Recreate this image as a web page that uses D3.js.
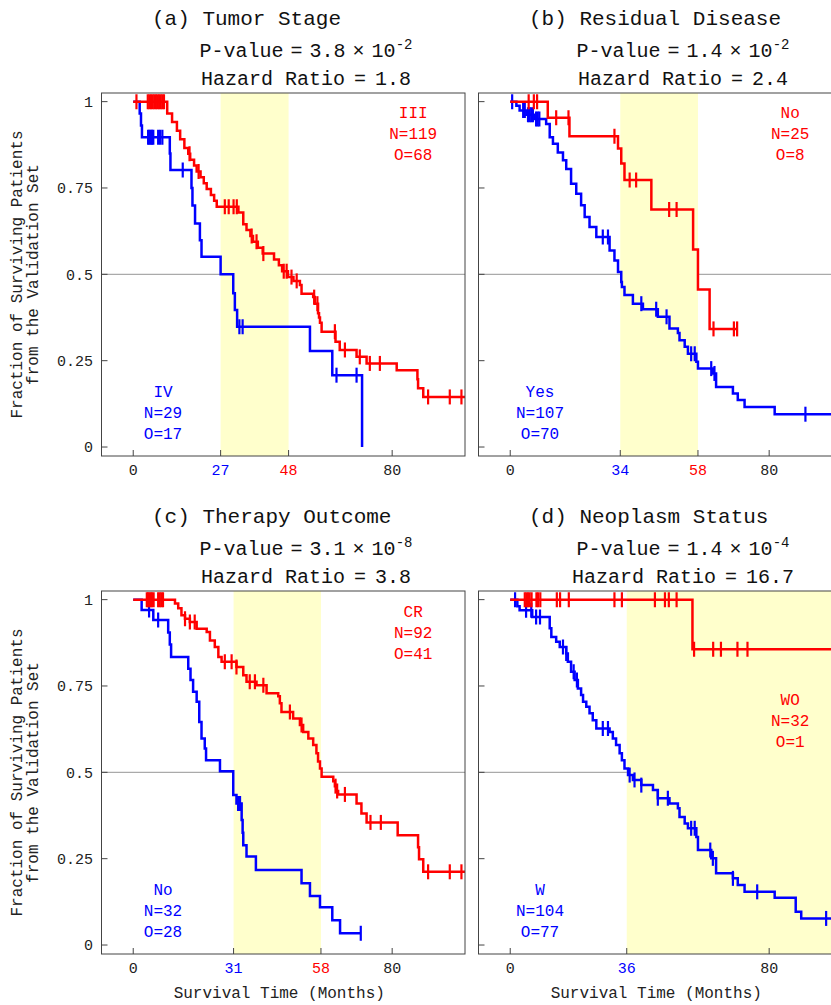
<!DOCTYPE html>
<html>
<head>
<meta charset="utf-8">
<script src="https://cdn.jsdelivr.net/npm/d3@7"></script>
<style>
  body { margin: 0; background: #fff; }
  svg { display: block; }
  text { font-family: "Liberation Mono", "DejaVu Sans Mono", monospace; }
</style>
</head>
<body>
<svg id="chart" width="831" height="1005"></svg>
<script>
// ---- Panel annotations ----
const panelTitles = ["(a) Tumor Stage", "(b) Residual Disease", "(c) Therapy Outcome", "(d) Neoplasm Status"];
const pValueMantissa = ["3.8", "1.4", "3.1", "1.4"];
const pValueExponent = ["-2", "-2", "-8", "-4"];
const hazardRatios = ["1.8", "2.4", "3.8", "16.7"];
const redGroupNames = ["III", "No", "CR", "WO"];
const blueGroupNames = ["IV", "Yes", "No", "W"];
const redN = [119, 25, 92, 32];
const redO = [68, 8, 41, 1];
const blueN = [29, 107, 32, 104];
const blueO = [17, 70, 28, 77];
const blueMedians = [27, 34, 31, 36];
const redMedians = [48, 58, 58, null];
const xTickBase = [0, 80];
const yTickValues = [0, 0.25, 0.5, 0.75, 1];
const yTickLabels = ["0", "0.25", "0.5", "0.75", "1"];

// ---- (a) Tumor Stage ----
const aRedTimes = [10.5, 12.0, 13.5, 14.5, 15.8, 17.0, 17.6, 18.8, 19.6, 20.8, 21.8, 22.7, 24.0, 25.0, 25.8, 32.5, 34.0, 35.0, 36.2, 37.0, 38.5, 40.0, 43.5, 45.0, 46.0, 47.8, 49.5, 51.5, 52.0, 55.6, 56.1, 57.1, 57.4, 57.7, 58.2, 62.5, 63.8, 69.0, 72.1, 81.4, 87.8, 88.0, 89.6];
const aRedSurv = [0.966, 0.941, 0.916, 0.891, 0.866, 0.849, 0.832, 0.815, 0.798, 0.781, 0.764, 0.747, 0.730, 0.713, 0.696, 0.679, 0.645, 0.628, 0.611, 0.594, 0.577, 0.560, 0.543, 0.526, 0.509, 0.492, 0.481, 0.469, 0.444, 0.434, 0.415, 0.387, 0.375, 0.360, 0.334, 0.305, 0.281, 0.261, 0.242, 0.222, 0.196, 0.170, 0.145];
const aRedCensor = [1.0, 4.5, 5.0, 5.5, 6.0, 6.5, 7.0, 7.5, 8.0, 8.5, 9.0, 9.5, 17.4, 20.2, 28.3, 29.5, 31.0, 32.0, 36.6, 38.1, 40.2, 46.5, 47.4, 48.9, 50.5, 55.9, 56.9, 62.3, 65.4, 70.0, 73.1, 76.2, 91.1, 97.8, 101.4];
const aRedEnd = 105;
const aBlueTimes = [2.0, 2.4, 2.7, 11.3, 11.5, 18.0, 18.3, 19.1, 20.6, 21.1, 27.0, 30.9, 31.4, 32.1, 54.6, 61.5, 70.7];
const aBlueSurv = [0.966, 0.931, 0.897, 0.850, 0.802, 0.750, 0.699, 0.647, 0.599, 0.551, 0.500, 0.445, 0.397, 0.348, 0.278, 0.208, 0];
const aBlueCensor = [4.6, 5.0, 5.4, 5.8, 6.2, 7.7, 8.3, 9.0, 15.3, 32.8, 33.8, 62.8, 69.0];
const aBlueEnd = 70.7;

// ---- (b) Residual Disease ----
const bRedTimes = [11.6, 18.3, 33.3, 34.3, 35.3, 43.6, 56.5, 58.0, 61.6];
const bRedSurv = [0.953, 0.900, 0.864, 0.821, 0.773, 0.688, 0.572, 0.456, 0.342];
const bRedCensor = [5.7, 7.3, 8.3, 14.2, 18.0, 32.2, 36.9, 38.9, 49.1, 51.4, 62.8, 69.1, 70.1];
const bRedEnd = 70.1;
const bBlueTimes = [1.9, 2.9, 5.0, 7.5, 11.1, 12.2, 13.2, 14.7, 16.3, 17.3, 18.8, 20.4, 21.9, 23.0, 24.5, 26.6, 30.7, 32.2, 33.3, 34.3, 34.5, 35.3, 37.9, 41.0, 45.6, 49.2, 51.8, 52.3, 53.9, 54.9, 57.5, 58.0, 62.6, 63.6, 68.8, 70.3, 72.4, 81.7];
const bBlueSurv = [0.988, 0.974, 0.962, 0.950, 0.935, 0.897, 0.878, 0.853, 0.830, 0.805, 0.762, 0.733, 0.700, 0.666, 0.637, 0.608, 0.569, 0.540, 0.507, 0.478, 0.463, 0.440, 0.415, 0.399, 0.377, 0.343, 0.330, 0.309, 0.290, 0.270, 0.247, 0.227, 0.213, 0.174, 0.155, 0.136, 0.116, 0.095];
const bBlueCensor = [0.6, 4.0, 4.5, 5.5, 6.0, 6.5, 7.0, 8.0, 8.5, 9.0, 28.6, 30.2, 40.5, 45.1, 48.3, 55.9, 57.0, 62.1, 63.1, 91.2];
const bBlueEnd = 105;

// ---- (c) Therapy Outcome ----
const cRedTimes = [12.9, 13.9, 14.9, 16.0, 17.5, 19.6, 22.7, 23.7, 25.2, 26.3, 27.3, 31.9, 34.0, 35.0, 38.1, 41.2, 44.8, 45.3, 45.8, 49.4, 51.5, 52.5, 54.1, 55.6, 56.6, 57.1, 57.7, 58.2, 61.8, 62.3, 62.8, 63.3, 69.0, 70.5, 72.1, 81.7, 88.0, 88.3, 89.6];
const cRedSurv = [0.989, 0.975, 0.955, 0.945, 0.935, 0.916, 0.906, 0.882, 0.863, 0.834, 0.820, 0.805, 0.781, 0.762, 0.752, 0.729, 0.720, 0.700, 0.675, 0.656, 0.637, 0.617, 0.598, 0.579, 0.555, 0.531, 0.511, 0.487, 0.474, 0.460, 0.446, 0.436, 0.410, 0.381, 0.355, 0.318, 0.283, 0.248, 0.212];
const cRedCensor = [4.2, 4.6, 5.0, 5.4, 5.8, 6.3, 7.7, 8.2, 8.7, 9.2, 16.0, 17.5, 19.0, 28.3, 30.4, 31.9, 36.0, 37.6, 40.2, 48.4, 52.0, 62.5, 63.0, 65.4, 73.3, 76.5, 91.1, 97.8, 101.4];
const cRedEnd = 105;
const cBlueTimes = [2.6, 6.2, 10.8, 11.3, 11.7, 17.0, 17.7, 18.5, 19.6, 20.4, 21.1, 22.1, 22.5, 26.8, 30.9, 31.9, 33.5, 33.8, 34.0, 35.0, 37.9, 52.0, 54.6, 57.7, 61.5, 63.9];
const cBlueSurv = [0.970, 0.941, 0.905, 0.870, 0.834, 0.800, 0.767, 0.733, 0.704, 0.646, 0.598, 0.569, 0.535, 0.503, 0.434, 0.410, 0.362, 0.325, 0.289, 0.256, 0.217, 0.179, 0.142, 0.109, 0.072, 0.034];
const cBlueCensor = [4.9, 7.7, 32.4, 33.0, 70.3];
const cBlueEnd = 70.3;

// ---- (d) Neoplasm Status ----
const dRedTimes = [56.3];
const dRedSurv = [0.856];
const dRedCensor = [4.5, 5.0, 5.5, 6.0, 6.6, 8.1, 8.6, 9.3, 14.4, 15.4, 18.1, 32.2, 34.5, 44.7, 47.8, 49.0, 51.4, 56.8, 62.7, 65.1, 70.2, 73.3];
const dRedEnd = 105;
const dBlueTimes = [2.2, 2.9, 6.8, 12.2, 12.7, 14.2, 15.3, 17.3, 17.8, 18.8, 19.9, 20.9, 21.9, 22.5, 23.5, 24.5, 25.5, 26.6, 30.7, 31.7, 32.7, 33.8, 34.5, 35.3, 36.4, 37.9, 40.5, 44.1, 45.6, 49.2, 51.8, 52.3, 53.9, 54.9, 57.5, 58.0, 62.1, 63.6, 68.8, 70.3, 72.4, 81.7, 88.2, 89.9];
const dBlueSurv = [0.981, 0.969, 0.950, 0.917, 0.892, 0.878, 0.863, 0.844, 0.820, 0.791, 0.767, 0.743, 0.724, 0.704, 0.690, 0.671, 0.651, 0.627, 0.617, 0.598, 0.579, 0.555, 0.535, 0.511, 0.492, 0.478, 0.463, 0.449, 0.425, 0.410, 0.396, 0.371, 0.352, 0.338, 0.313, 0.275, 0.251, 0.208, 0.193, 0.174, 0.154, 0.137, 0.096, 0.077];
const dBlueCensor = [1.5, 4.9, 6.5, 8.0, 9.2, 16.3, 17.3, 19.6, 20.6, 28.6, 30.2, 36.9, 38.4, 40.5, 45.6, 48.7, 55.9, 57.0, 61.8, 62.6, 68.8, 76.3, 97.6];
const dBlueEnd = 105;

const redCurves = [
  { times: aRedTimes, surv: aRedSurv, censor: aRedCensor, end: aRedEnd },
  { times: bRedTimes, surv: bRedSurv, censor: bRedCensor, end: bRedEnd },
  { times: cRedTimes, surv: cRedSurv, censor: cRedCensor, end: cRedEnd },
  { times: dRedTimes, surv: dRedSurv, censor: dRedCensor, end: dRedEnd }
];
const blueCurves = [
  { times: aBlueTimes, surv: aBlueSurv, censor: aBlueCensor, end: aBlueEnd },
  { times: bBlueTimes, surv: bBlueSurv, censor: bBlueCensor, end: bBlueEnd },
  { times: cBlueTimes, surv: cBlueSurv, censor: cBlueCensor, end: cBlueEnd },
  { times: dBlueTimes, surv: dBlueSurv, censor: dBlueCensor, end: dBlueEnd }
];

// ---- Layout ----
const RED = "#ff0000", BLUE = "#0000ff", BAND = "#ffffcc";
const W = 363.5, H = 363;
const origins = [[101.5, 93], [478.5, 93], [101.5, 591], [478.5, 591]];
const redLabelTop = [25, 25, 26, 114];

const x = d3.scaleLinear().domain([-9.8, 102.5]).range([0, W]);
const y = d3.scaleLinear().domain([-0.026, 1.025]).range([H, 0]);

const svg = d3.select("#chart");
const defs = svg.append("defs");
defs.append("clipPath").attr("id", "plotClip")
  .append("rect").attr("x", 0).attr("y", 0).attr("width", W).attr("height", H);

const stepLine = d3.line()
  .x(d => x(d[0]))
  .y(d => y(d[1]))
  .curve(d3.curveStepAfter);

function survivalAt(c, t) {
  let s = 1;
  c.times.forEach((ti, i) => { if (ti <= t) s = c.surv[i]; });
  return s;
}

function drawCurve(g, c, color) {
  const pts = [[0, 1]].concat(c.times.map((t, i) => [t, c.surv[i]]));
  pts.push([c.end, c.surv.length ? c.surv[c.surv.length - 1] : 1]);
  g.append("path")
    .attr("d", stepLine(pts))
    .attr("fill", "none")
    .attr("stroke", color)
    .attr("stroke-width", 2.5)
    .attr("stroke-linejoin", "miter");
  g.selectAll(null)
    .data(c.censor)
    .enter().append("line")
    .attr("x1", t => x(t)).attr("x2", t => x(t))
    .attr("y1", t => y(survivalAt(c, t)) - 7.5)
    .attr("y2", t => y(survivalAt(c, t)) + 7.5)
    .attr("stroke", color)
    .attr("stroke-width", 2.2);
}

panelTitles.forEach((title, i) => {
  const [ox, oy] = origins[i];
  const g = svg.append("g").attr("transform", `translate(${ox},${oy})`);
  const left = (i % 2 === 0), bottom = (i >= 2);

  // median reference line
  g.append("line")
    .attr("x1", 0).attr("x2", W)
    .attr("y1", y(0.5)).attr("y2", y(0.5))
    .attr("stroke", "#aaaaaa").attr("stroke-width", 1.4);

  // band between the two median survival times
  const bandEnd = redMedians[i] === null ? x.domain()[1] : redMedians[i];
  g.append("rect")
    .attr("x", x(blueMedians[i]))
    .attr("width", x(bandEnd) - x(blueMedians[i]))
    .attr("y", 0).attr("height", H)
    .attr("fill", BAND);

  const plot = g.append("g").attr("clip-path", "url(#plotClip)");
  drawCurve(plot, blueCurves[i], BLUE);
  drawCurve(plot, redCurves[i], RED);

  // frame
  g.append("rect")
    .attr("x", 0).attr("y", 0).attr("width", W).attr("height", H)
    .attr("fill", "none").attr("stroke", "#444").attr("stroke-width", 1);

  // y ticks
  g.selectAll(null).data(yTickValues).enter().append("line")
    .attr("x1", 0).attr("x2", 6)
    .attr("y1", d => y(d)).attr("y2", d => y(d))
    .attr("stroke", "#444").attr("stroke-width", 1);
  if (left) {
    g.selectAll(null).data(yTickValues).enter().append("text")
      .attr("x", -8.5).attr("y", d => y(d)).attr("dy", "0.35em")
      .attr("text-anchor", "end").attr("font-size", 15).attr("fill", "#222")
      .text((d, k) => yTickLabels[k]);
  }

  // x ticks: 0, medians, 80
  const xt = [
    { v: xTickBase[0], c: "#222" },
    { v: blueMedians[i], c: BLUE }
  ];
  if (redMedians[i] !== null) xt.push({ v: redMedians[i], c: RED });
  xt.push({ v: xTickBase[1], c: "#222" });
  g.selectAll(null).data(xt).enter().append("line")
    .attr("x1", d => x(d.v)).attr("x2", d => x(d.v))
    .attr("y1", H).attr("y2", H - 6)
    .attr("stroke", "#444").attr("stroke-width", 1);
  g.selectAll(null).data(xt).enter().append("text")
    .attr("x", d => x(d.v)).attr("y", H + 19)
    .attr("text-anchor", "middle").attr("font-size", 15)
    .attr("fill", d => d.c)
    .text(d => d.v);

  // title and statistics
  g.append("text")
    .attr("x", 50.5).attr("y", -68)
    .attr("font-size", 21).attr("fill", "#111")
    .text(title);

  const pv = g.append("text")
    .attr("x", 204.5).attr("y", -36)
    .attr("text-anchor", "middle").attr("font-size", 20).attr("fill", "#111");
  pv.append("tspan").text("P-value");
  pv.append("tspan").attr("dx", 7).text("=");
  pv.append("tspan").attr("dx", 7).text(pValueMantissa[i]);
  pv.append("tspan").attr("dx", 7).text("\u00d7");
  pv.append("tspan").attr("dx", 7).text("10");
  pv.append("tspan").attr("dy", -8).attr("font-size", 14).text(pValueExponent[i]);

  const hr = g.append("text")
    .attr("x", 204.5).attr("y", -8)
    .attr("text-anchor", "middle").attr("font-size", 20).attr("fill", "#111");
  hr.append("tspan").text("Hazard Ratio");
  hr.append("tspan").attr("dx", 9).text("=");
  hr.append("tspan").attr("dx", 9).text(hazardRatios[i]);

  // group annotations
  const redLines = [redGroupNames[i], `N=${redN[i]}`, `O=${redO[i]}`];
  g.selectAll(null).data(redLines).enter().append("text")
    .attr("x", x(86.5)).attr("y", (d, k) => redLabelTop[i] + k * 21)
    .attr("text-anchor", "middle").attr("font-size", 16).attr("fill", RED)
    .text(d => d);
  const blueLines = [blueGroupNames[i], `N=${blueN[i]}`, `O=${blueO[i]}`];
  g.selectAll(null).data(blueLines).enter().append("text")
    .attr("x", x(9.2)).attr("y", (d, k) => 304 + k * 21)
    .attr("text-anchor", "middle").attr("font-size", 16).attr("fill", BLUE)
    .text(d => d);

  // axis titles
  if (bottom) {
    g.append("text")
      .attr("x", W / 2 - 4).attr("y", H + 44)
      .attr("text-anchor", "middle").attr("font-size", 16).attr("fill", "#222")
      .text("Survival Time (Months)");
  }
  if (left) {
    const yl = g.append("text")
      .attr("transform", `translate(-79.5,${H / 2}) rotate(-90)`)
      .attr("text-anchor", "middle").attr("font-size", 16).attr("fill", "#222");
    yl.append("tspan").attr("x", 0).attr("y", 0).text("Fraction of Surviving Patients");
    yl.append("tspan").attr("x", 0).attr("y", 16).text("from the Validation Set");
  }
});
</script>
</body>
</html>
